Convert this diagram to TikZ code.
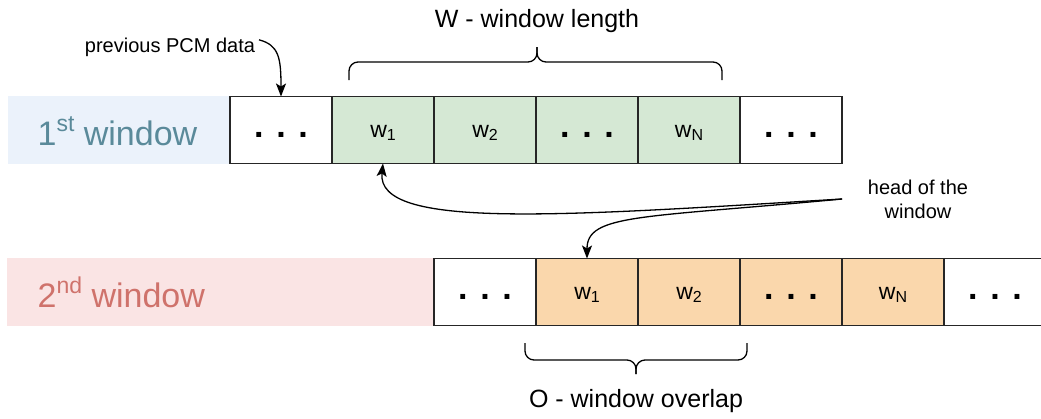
\documentclass[tikz,border=0pt]{standalone}
\usepackage{fontspec}
\setmainfont{Liberation Sans}
\usetikzlibrary{arrows.meta}
\definecolor{bandblue}{HTML}{EBF2FB}
\definecolor{bandpink}{HTML}{FAE4E4}
\definecolor{txtblue}{HTML}{5A8A9A}
\definecolor{txtpink}{HTML}{CF726B}
\definecolor{wgreen}{HTML}{D5E8D4}
\definecolor{worange}{HTML}{FAD7AC}
\newcommand{\wsub}[1]{{\fontsize{23}{23}\selectfont w}{\fontsize{16}{16}\selectfont\raisebox{-3pt}{#1}}}
\newcommand{\gap}{{\fontsize{34}{34}\selectfont\bfseries . . .}}
\newcommand{\winlabel}[2]{{\fontsize{34}{34}\selectfont #1\raisebox{14pt}{\fontsize{23}{23}\selectfont #2} window}}
\begin{document}
\begin{tikzpicture}[x=1pt, y=-1pt, line width=1.2pt,
  cell/.style={draw=black!85, minimum width=102pt, minimum height=67pt, inner sep=0pt, outer sep=0pt, text height=14pt, text depth=0pt},
  win1/.style={cell, fill=wgreen},
  win2/.style={cell, fill=worange},
  note/.style={font=\fontsize{20}{24}\selectfont, align=center},
  title/.style={font=\fontsize{25}{25}\selectfont},
  pointer/.style={line width=1.3pt, -{Stealth[length=13pt, width=10pt, inset=3pt]}},
  brace/.style={line width=1.3pt, rounded corners=9pt}]
\useasboundingbox (0,0) rectangle (1041,418);

% window bands
\fill[bandblue] (8,96) rectangle (230,164);
\fill[bandpink] (7,258) rectangle (434,326);
\node[anchor=base west, text=txtblue, inner sep=0pt] (lab1) at (37,145) {\winlabel{1}{st}};
\node[anchor=base west, text=txtpink, inner sep=0pt] (lab2) at (37,307) {\winlabel{2}{nd}};

% first window
\node [cell](c11) at (281,130) {\gap};
\node [win1](c12) at (383,130) {\wsub{1}};
\node [win1](c13) at (485,130) {\wsub{2}};
\node [win1](c14) at (587,130) {\gap};
\node [win1](c15) at (689,130) {\wsub{N}};
\node [cell](c16) at (791,130) {\gap};

% second window
\node [cell](c21) at (485,292) {\gap};
\node [win2](c22) at (587,292) {\wsub{1}};
\node [win2](c23) at (689,292) {\wsub{2}};
\node [win2](c24) at (791,292) {\gap};
\node [win2](c25) at (893,292) {\wsub{N}};
\node [cell](c26) at (995,292) {\gap};

% labels
\node [title](wlen) at (537,21) {W - window length};
\node [title](wovl) at (636,401) {O - window overlap};
\node [note, anchor=base](prev) at (170,52) {previous PCM data};
\node [note](head) at (918,199) {head of the\\window};
\coordinate (hw) at ([xshift=-22pt]head.west);

% braces
\draw[brace] (349,80) |- (537,62) -- (537,47);
\draw[brace] (722,80) |- (537,62) -- (537,47);
\draw[brace] (525,343) |- (636,360) -- (636,374);
\draw[brace] (747,343) |- (636,360) -- (636,374);

% pointers
\draw[pointer] ([yshift=7pt]prev.east) .. controls (279,45) and (281,58) .. (c11.north);
\draw[pointer] (hw) .. controls (560,216) and (376,230) .. (c12.south);
\draw[pointer] (hw) .. controls (640,218) and (587,214) .. (c22.north);
\end{tikzpicture}
\end{document}
